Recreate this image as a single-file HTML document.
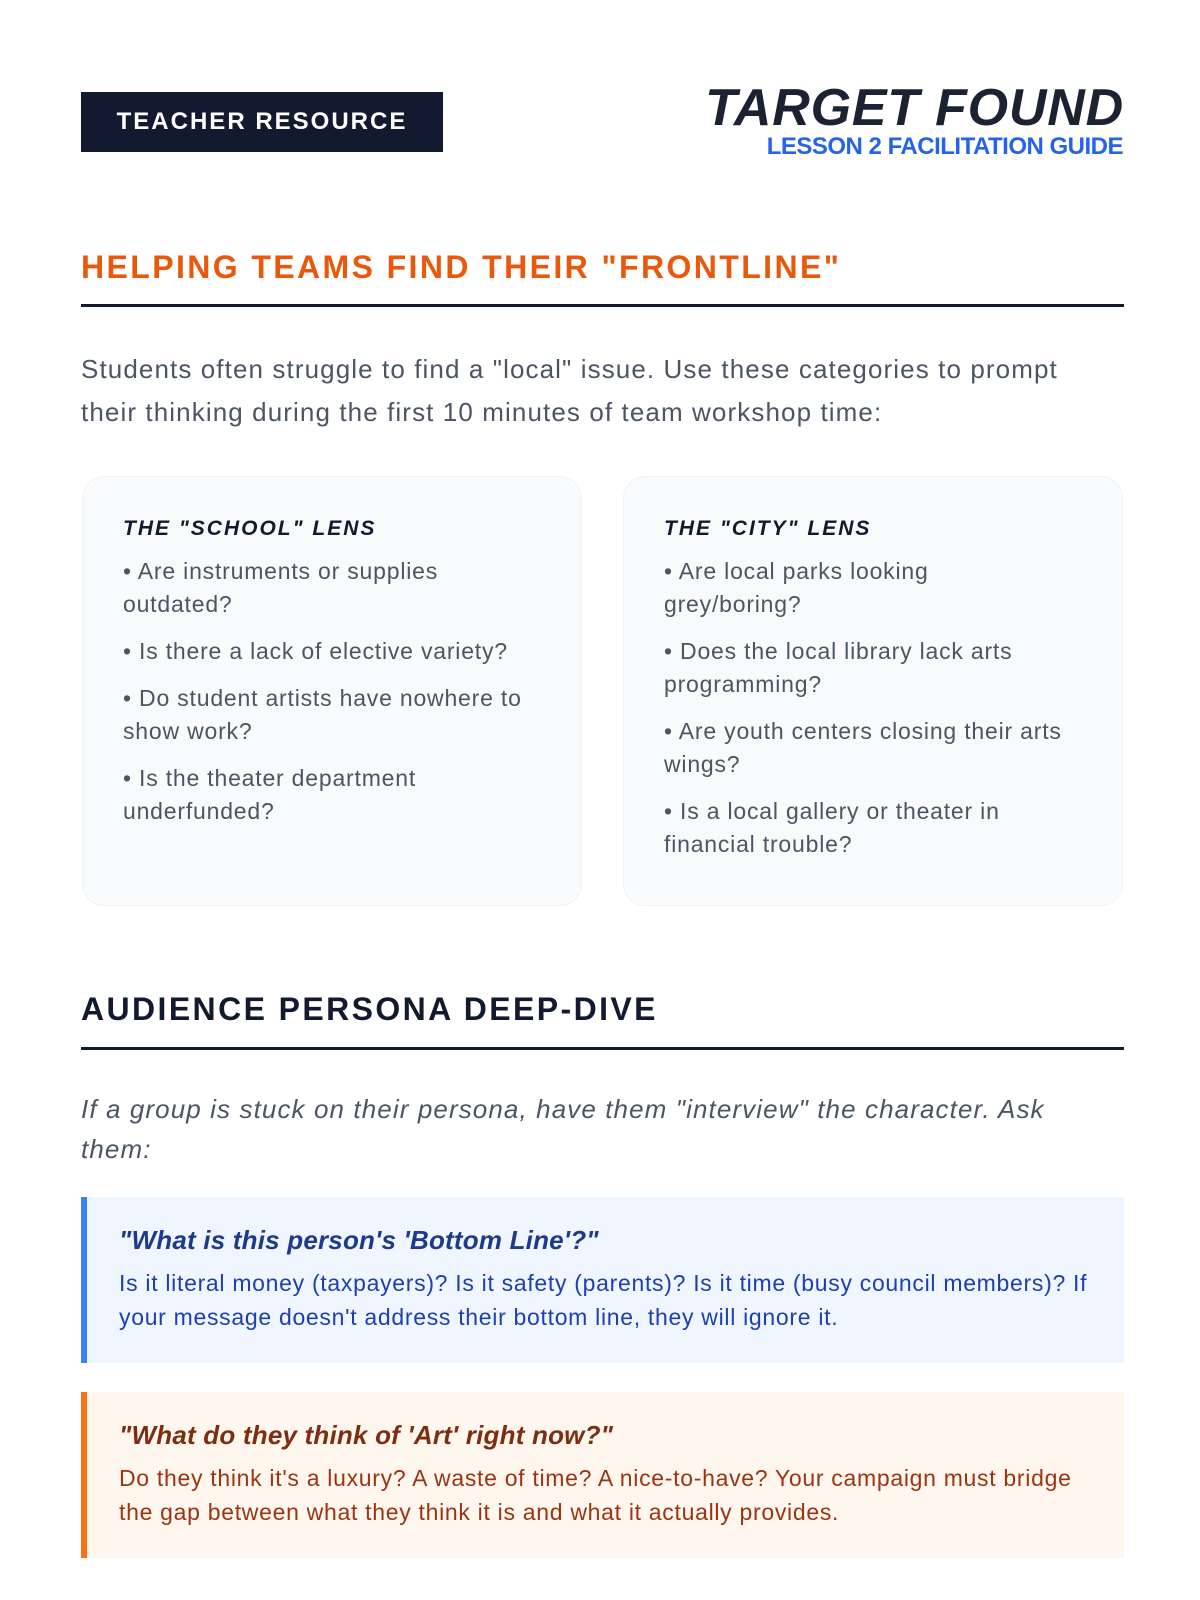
<!DOCTYPE html>
<html><head><meta charset="utf-8"><style>
*{margin:0;padding:0;box-sizing:border-box}
body{width:1200px;height:1600px;background:#fff;font-family:"Liberation Sans",sans-serif;position:relative;overflow:hidden}
.a{position:absolute}
.badge{left:81px;top:92px;width:362px;height:60px;background:#111a2e;color:#fff;font-weight:bold;font-size:24px;letter-spacing:2px;line-height:60px;text-align:center}
.title{right:76px;top:78px;font-size:52px;font-weight:bold;font-style:italic;color:#1b2333;letter-spacing:0.8px;white-space:nowrap}
.sub{right:77px;top:133px;font-size:24px;font-weight:bold;color:#2563eb;white-space:nowrap;letter-spacing:-0.5px}
.h2{left:81px;font-size:32px;font-weight:bold;letter-spacing:2.4px;white-space:nowrap}
.rule{left:81px;width:1043px;height:3px;background:#111a2e}
.p{left:81px;width:1080px;font-size:26px;line-height:43px;color:#4b5563;white-space:nowrap;letter-spacing:1.1px}
.card{top:476px;width:500px;height:430px;background:#f8fafc;border:1px solid #eef2f6;border-radius:22px;padding:36px 40px}
.card h3{font-size:21px;font-style:italic;font-weight:bold;letter-spacing:2px;color:#111a2e;margin-bottom:14px;margin-top:4px}
.card div{font-size:23px;line-height:33px;color:#4b5563;margin-bottom:14px;letter-spacing:0.8px;white-space:nowrap}
.box{left:81px;width:1043px;height:166px;padding:28px 30px 0 32px}
.box h4{font-size:26px;font-style:italic;font-weight:bold;margin-bottom:10px;letter-spacing:0.2px}
.box div{font-size:23px;line-height:34px;white-space:nowrap;letter-spacing:0.7px}
</style></head><body>
<div class="a badge">TEACHER RESOURCE</div>
<div class="a title">TARGET FOUND</div>
<div class="a sub">LESSON 2 FACILITATION GUIDE</div>
<div class="a h2" style="top:249px;color:#ea580c">HELPING TEAMS FIND THEIR "FRONTLINE"</div>
<div class="a rule" style="top:304px"></div>
<div class="a p" style="top:348px">Students often struggle to find a "local" issue. Use these categories to prompt<br>their thinking during the first 10 minutes of team workshop time:</div>
<div class="a card" style="left:82px">
<h3>THE "SCHOOL" LENS</h3>
<div>• Are instruments or supplies<br>outdated?</div>
<div>• Is there a lack of elective variety?</div>
<div>• Do student artists have nowhere to<br>show work?</div>
<div>• Is the theater department<br>underfunded?</div>
</div>
<div class="a card" style="left:623px">
<h3>THE "CITY" LENS</h3>
<div>• Are local parks looking<br>grey/boring?</div>
<div>• Does the local library lack arts<br>programming?</div>
<div>• Are youth centers closing their arts<br>wings?</div>
<div>• Is a local gallery or theater in<br>financial trouble?</div>
</div>
<div class="a h2" style="top:991px;color:#111a2e">AUDIENCE PERSONA DEEP-DIVE</div>
<div class="a rule" style="top:1047px"></div>
<div class="a p" style="top:1089px;font-style:italic;line-height:40px">If a group is stuck on their persona, have them "interview" the character. Ask<br>them:</div>
<div class="a box" style="top:1197px;background:#eff6ff;border-left:6px solid #3b82f6">
<h4 style="color:#1e3a8a">"What is this person's 'Bottom Line'?"</h4>
<div style="color:#1e40af">Is it literal money (taxpayers)? Is it safety (parents)? Is it time (busy council members)? If<br>your message doesn't address their bottom line, they will ignore it.</div>
</div>
<div class="a box" style="top:1392px;background:#fff7ed;border-left:6px solid #f97316">
<h4 style="color:#7c2d12">"What do they think of 'Art' right now?"</h4>
<div style="color:#9a3412">Do they think it's a luxury? A waste of time? A nice-to-have? Your campaign must bridge<br>the gap between what they think it is and what it actually provides.</div>
</div>
</body></html>
